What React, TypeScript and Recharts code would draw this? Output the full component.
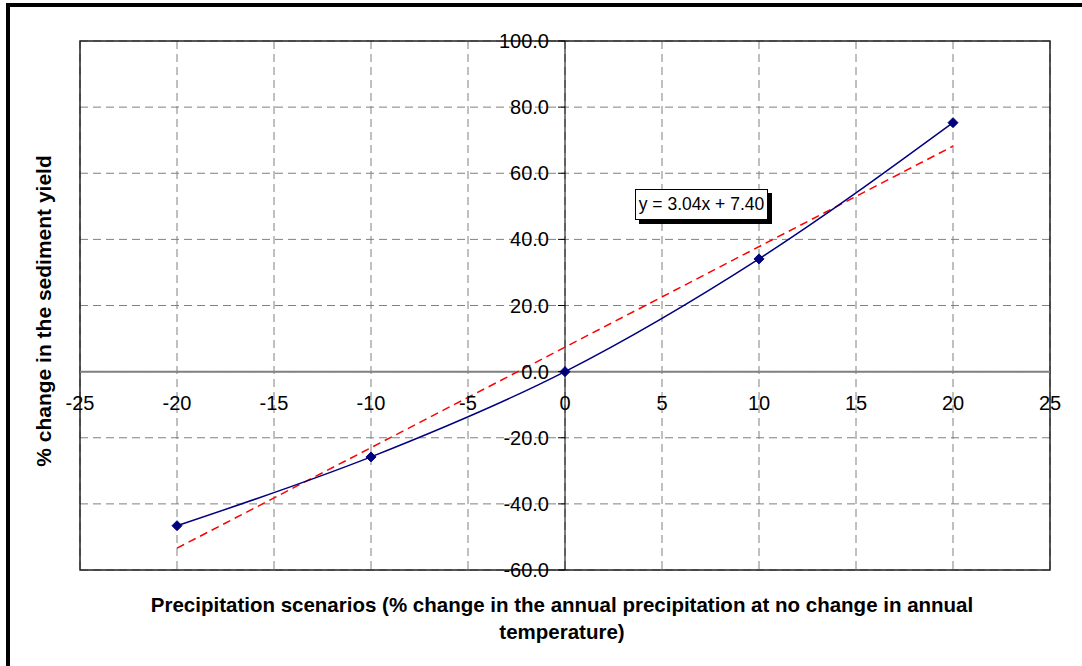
import { LineChart, Line, XAxis, YAxis, CartesianGrid, ReferenceLine, ReferenceArea } from 'recharts';

// scenario values (% change in precipitation) and resulting sediment yield change
const scenarios = [-20, -10, 0, 10, 20];
const sedimentChange = [-46.6, -25.8, 0, 34.1, 75.3];

// linear trend line end points as drawn (y = 3.04x + 7.40)
const trendX = [-20, 20];
const trendY = [-53.4, 68.2];

const xTicks = [-25, -20, -15, -10, -5, 0, 5, 10, 15, 20, 25];
const yTicks = [-60, -40, -20, 0, 20, 40, 60, 80, 100];

const W = 1082;
const H = 666;
const M = { top: 41, right: 32, bottom: 95, left: 79 };
const PLOT_LEFT = 80;
const PLOT_W = W - PLOT_LEFT - M.right;
const PLOT_H = H - M.top - M.bottom - 1;
const X_MIN = -25;
const X_MAX = 25;
const Y_MIN = -60;
const Y_MAX = 100;
// where the two axes cross (origin)
const ZERO_X = PLOT_LEFT + (PLOT_W * (0 - X_MIN)) / (X_MAX - X_MIN);
const ZERO_Y = M.top + (PLOT_H * (Y_MAX - 0)) / (Y_MAX - Y_MIN);

const FONT = "Arial, 'Liberation Sans', sans-serif";

const mainData = scenarios.map((x, i) => ({ x, y: sedimentChange[i] }));
const trendData = trendX.map((x, i) => ({ x, y: trendY[i] }));

const renderXTick = ({ x, payload }: any) => (
  <text x={x} y={ZERO_Y + 38} textAnchor="middle" fontSize={20} fontFamily={FONT} fill="#000">
    {payload.value}
  </text>
);

const renderYTick = ({ y, payload }: any) => (
  <g>
    <line x1={ZERO_X - 7} x2={ZERO_X} y1={y} y2={y} stroke="#000" strokeWidth={1} />
    <text
      x={ZERO_X - 16}
      y={y}
      textAnchor="end"
      dominantBaseline="central"
      fontSize={20}
      fontFamily={FONT}
      fill="#000"
    >
      {Number(payload.value).toFixed(1)}
    </text>
  </g>
);

const Diamond = ({ cx, cy }: any) => (
  <path d={`M${cx},${cy - 5} L${cx + 5},${cy} L${cx},${cy + 5} L${cx - 5},${cy} Z`} fill="#000080" stroke="#000080" />
);

export default function App() {
  return (
    <div style={{ position: 'absolute', left: 0, top: 0, width: W, height: H, background: '#fff', overflow: 'hidden' }}>
      <div
        style={{
          position: 'absolute',
          left: 6,
          top: 3,
          width: W,
          height: H - 4,
          borderLeft: '4px solid #000',
          borderTop: '4px solid #000',
          borderBottom: '1px solid #ccc',
        }}
      />
      <LineChart width={W} height={H} margin={M} style={{ position: 'absolute', left: 0, top: 0 }}>
        <CartesianGrid stroke="#808080" strokeDasharray="8 5" />
        <XAxis
          dataKey="x"
          type="number"
          domain={[X_MIN, X_MAX]}
          ticks={xTicks}
          axisLine={false}
          tickLine={false}
          tick={renderXTick}
          height={1}
          allowDataOverflow
          interval={0}
        />
        <YAxis
          type="number"
          domain={[Y_MIN, Y_MAX]}
          ticks={yTicks}
          axisLine={false}
          tickLine={false}
          tick={renderYTick}
          width={1}
          allowDataOverflow
          interval={0}
        />
        <ReferenceArea x1={X_MIN} x2={X_MAX} y1={Y_MIN} y2={Y_MAX} fill="none" fillOpacity={0} stroke="#222" strokeWidth={1.5} />
        <ReferenceLine y={0} stroke="#808080" strokeWidth={2} />
        <ReferenceLine x={0} stroke="#000" strokeWidth={1} />
        <Line
          data={trendData}
          dataKey="y"
          type="linear"
          stroke="#ff0000"
          strokeWidth={1.5}
          strokeDasharray="8 5"
          dot={false}
          isAnimationActive={false}
        />
        <Line
          data={mainData}
          dataKey="y"
          type="monotone"
          stroke="#000080"
          strokeWidth={1.5}
          dot={<Diamond />}
          isAnimationActive={false}
        />
      </LineChart>
      <div
        style={{
          position: 'absolute',
          left: 635,
          top: 189,
          width: 131,
          height: 29,
          border: '1px solid #000',
          background: '#fff',
          boxShadow: '4px 4px 0 #000',
          fontFamily: FONT,
          fontSize: 17.5,
          lineHeight: '29px',
          textAlign: 'center',
          whiteSpace: 'nowrap',
        }}
      >
        y = 3.04x + 7.40
      </div>
      <div
        style={{
          position: 'absolute',
          left: 44,
          top: 311,
          transform: 'translate(-50%, -50%) rotate(-90deg)',
          fontFamily: FONT,
          fontWeight: 'bold',
          fontSize: 21,
          whiteSpace: 'nowrap',
        }}
      >
        % change in the sediment yield
      </div>
      <div
        style={{
          position: 'absolute',
          left: 62,
          top: 591,
          width: 1000,
          textAlign: 'center',
          fontFamily: FONT,
          fontWeight: 'bold',
          fontSize: 20.5,
          lineHeight: '27px',
        }}
      >
        Precipitation scenarios (% change in the annual precipitation at no change in annual
        <br />
        temperature)
      </div>
    </div>
  );
}
